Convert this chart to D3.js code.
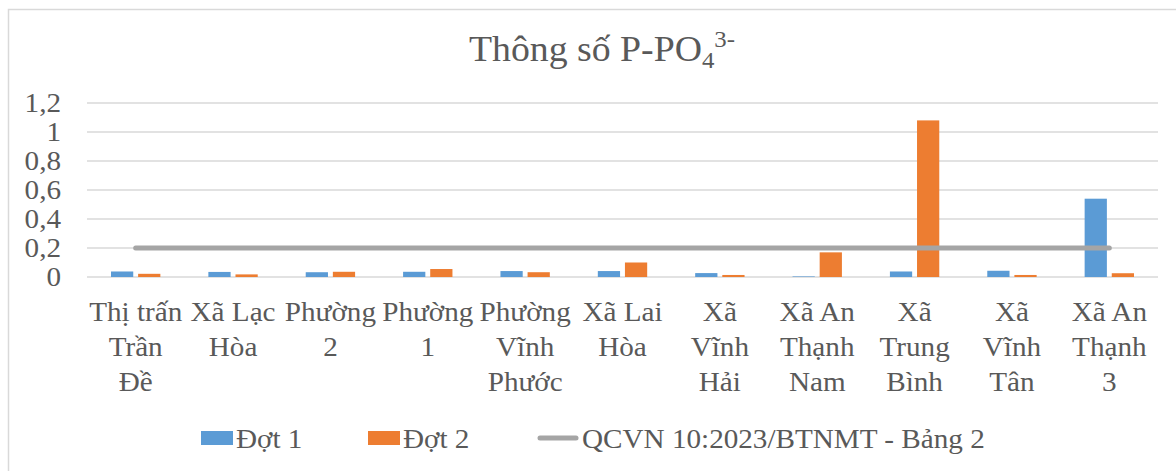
<!DOCTYPE html>
<html>
<head>
<meta charset="utf-8">
<script src="https://cdn.jsdelivr.net/npm/d3@7"></script>
<style>
  body { margin: 0; background: #fff; }
  text { font-family: "Liberation Serif", "Times New Roman", serif; fill: #595959; }
</style>
</head>
<body>
<svg id="chart" width="1176" height="471"></svg>
<script>
// categories, one entry per wrapped line as in the original
const categories = [
  ["Thị trấn", "Trần", "Đề"],
  ["Xã Lạc", "Hòa"],
  ["Phường", "2"],
  ["Phường", "1"],
  ["Phường", "Vĩnh", "Phước"],
  ["Xã Lai", "Hòa"],
  ["Xã", "Vĩnh", "Hải"],
  ["Xã An", "Thạnh", "Nam"],
  ["Xã", "Trung", "Bình"],
  ["Xã", "Vĩnh", "Tân"],
  ["Xã An", "Thạnh", "3"]
];
const dot1 = [0.038, 0.035, 0.033, 0.036, 0.041, 0.041, 0.027, 0.004, 0.038, 0.043, 0.54];
const dot2 = [0.022, 0.018, 0.036, 0.055, 0.033, 0.1, 0.014, 0.17, 1.08, 0.014, 0.026];
const qcvn = [0.2, 0.2, 0.2, 0.2, 0.2, 0.2, 0.2, 0.2, 0.2, 0.2, 0.2];
const yTicks = [0, 0.2, 0.4, 0.6, 0.8, 1, 1.2];
const seriesNames = ["Đợt 1", "Đợt 2", "QCVN 10:2023/BTNMT - Bảng 2"];
const colors = ["#5B9BD5", "#ED7D31", "#A5A5A5"];

const width = 1176, height = 471;
const plot = { left: 87, right: 1158, top: 103, bottom: 277 };
const sx = 1.08; // text in the source is a bit wider than tall

const svg = d3.select("#chart");
const keys = categories.map((c) => c.join(" "));

const x = d3.scaleBand().domain(keys).range([plot.left, plot.right]);
const x1 = d3.scaleBand()
  .domain([0, 1])
  .range([24, x.bandwidth() - 24])
  .paddingInner(0.18);
const y = d3.scaleLinear().domain([0, 1.2]).range([plot.bottom, plot.top]);

// helper for stretched text
function place(sel, px, py) {
  return sel.attr("transform", `translate(${px},${py}) scale(${sx},1)`);
}

// outer border
svg.append("rect")
  .attr("x", 8.5).attr("y", 9.5)
  .attr("width", width).attr("height", height)
  .attr("fill", "none")
  .attr("stroke", "#d9d9d9")
  .attr("stroke-width", 1.5);

// gridlines
svg.append("g")
  .selectAll("line")
  .data(yTicks)
  .join("line")
  .attr("x1", plot.left).attr("x2", plot.right)
  .attr("y1", (d) => y(d)).attr("y2", (d) => y(d))
  .attr("stroke", "#d9d9d9")
  .attr("stroke-width", 1.5);

// y labels
svg.append("g")
  .selectAll("text")
  .data(yTicks)
  .join("text")
  .attr("text-anchor", "end")
  .style("font-size", "27px")
  .each(function (d) {
    place(d3.select(this), 61, y(d) + 9);
  })
  .text((d) => String(d).replace(".", ","));

// bars
const barData = [];
keys.forEach((k, i) => {
  barData.push({ key: k, s: 0, v: dot1[i] });
  barData.push({ key: k, s: 1, v: dot2[i] });
});
svg.append("g")
  .selectAll("rect")
  .data(barData)
  .join("rect")
  .attr("x", (d) => x(d.key) + x1(d.s))
  .attr("width", x1.bandwidth())
  .attr("y", (d) => y(d.v))
  .attr("height", (d) => y(0) - y(d.v))
  .attr("fill", (d) => colors[d.s]);

// QCVN line
const line = d3.line()
  .x((d, i) => x(keys[i]) + x.bandwidth() / 2)
  .y((d) => y(d));
svg.append("path")
  .datum(qcvn)
  .attr("d", line)
  .attr("fill", "none")
  .attr("stroke", colors[2])
  .attr("stroke-width", 5)
  .attr("stroke-linecap", "round");

// x labels
const xl = svg.append("g")
  .selectAll("text")
  .data(categories)
  .join("text")
  .attr("text-anchor", "middle")
  .style("font-size", "27px")
  .each(function (d, i) {
    place(d3.select(this), x(keys[i]) + x.bandwidth() / 2, 321);
  });
xl.selectAll("tspan")
  .data((d) => d)
  .join("tspan")
  .attr("x", 0)
  .attr("y", (d, i) => i * 35)
  .text((d) => d);

// title
const title = svg.append("text")
  .attr("text-anchor", "middle")
  .style("font-size", "35px");
place(title, 602, 61);
title.append("tspan").text("Thông số P-PO");
title.append("tspan").attr("dy", 7).style("font-size", "23px").text("4");
title.append("tspan").attr("dy", -21).style("font-size", "23px").text("3-");

// legend
const legend = svg.append("g");
legend.append("rect").attr("x", 201).attr("y", 431).attr("width", 32).attr("height", 14).attr("fill", colors[0]);
legend.append("rect").attr("x", 368).attr("y", 431).attr("width", 32).attr("height", 14).attr("fill", colors[1]);
legend.append("line")
  .attr("x1", 540).attr("x2", 576).attr("y1", 438).attr("y2", 438)
  .attr("stroke", colors[2]).attr("stroke-width", 5).attr("stroke-linecap", "round");
[236, 403, 582].forEach((lx, i) => {
  place(legend.append("text").style("font-size", "27px"), lx, 448).text(seriesNames[i]);
});
</script>
</body>
</html>
